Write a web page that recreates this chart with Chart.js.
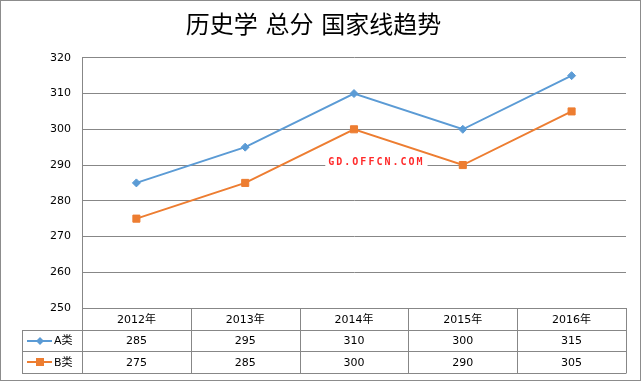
<!DOCTYPE html>
<html>
<head>
<meta charset="utf-8">
<script src="https://cdn.jsdelivr.net/npm/chart.js@4.4.1/dist/chart.umd.min.js"></script>
<style>
  html, body { margin: 0; padding: 0; background: #fff; }
  #wrap { width: 641px; height: 381px; box-sizing: border-box; border: 1px solid #8c8c8c; background: #fff; }
  #c { display: block; }
</style>
</head>
<body>
<div id="wrap"><canvas id="c" width="639" height="379"></canvas></div>
<script>
// ---- data ----
const titleText = '历史学 总分 国家线趋势';
const categories = ['2012年', '2013年', '2014年', '2015年', '2016年'];
const seriesNames = ['A类', 'B类'];
const seriesA = [285, 295, 310, 300, 315];
const seriesB = [275, 285, 300, 290, 305];
const yTicks = [250, 260, 270, 280, 290, 300, 310, 320];
const watermarkText = 'GD.OFFCN.COM';

const GRID = '#878787';
const FONT = "'DejaVu Sans', 'Noto Sans CJK SC', sans-serif";

// watermark
const watermark = {
  id: 'watermark',
  beforeDatasetsDraw(chart) {
    const ctx = chart.ctx;
    const xs = chart.scales.x, ys = chart.scales.y;
    const cx = (xs.getPixelForValue(2) + xs.getPixelForValue(3)) / 2 - 32;
    const by = ys.getPixelForValue(290);
    ctx.save();
    ctx.font = "bold 10px 'DejaVu Sans Mono', monospace";
    if ('letterSpacing' in ctx) ctx.letterSpacing = '2px';
    const w = ctx.measureText(watermarkText).width;
    ctx.fillStyle = '#ffffff';
    ctx.fillRect(cx - w / 2 - 3, by - 10, w + 6, 13);
    ctx.fillStyle = '#ff2b2b';
    ctx.textAlign = 'left';
    ctx.textBaseline = 'alphabetic';
    ctx.fillText(watermarkText, cx - w / 2, by);
    if ('letterSpacing' in ctx) ctx.letterSpacing = '0px';
    ctx.restore();
  }
};

// data table below the plot
const dataTable = {
  id: 'dataTable',
  afterDraw(chart) {
    const ctx = chart.ctx;
    const area = chart.chartArea;
    const xs = chart.scales.x;
    const n = categories.length;
    const cw = (area.right - area.left) / n;
    const rowH = 21.7;
    const top = area.bottom;
    const r1 = top + rowH, r2 = top + 2 * rowH, r3 = top + 3 * rowH;
    const legLeft = 21;
    const al = v => Math.round(v) + 0.5;
    ctx.save();
    // keep the gridlines inside the plot area
    ctx.fillStyle = '#ffffff';
    ctx.fillRect(Math.round(area.right) + 1, area.top - 3, chart.width, area.bottom - area.top + 2);

    ctx.strokeStyle = GRID;
    ctx.lineWidth = 1;
    ctx.beginPath();
    ctx.moveTo(area.left, al(top)); ctx.lineTo(area.right, al(top));
    [r1, r2, r3].forEach(y => { ctx.moveTo(legLeft, al(y)); ctx.lineTo(area.right, al(y)); });
    for (let i = 0; i <= n; i++) {
      const x = al(area.left + i * cw);
      ctx.moveTo(x, top); ctx.lineTo(x, al(r3));
    }
    ctx.moveTo(al(legLeft), al(r1)); ctx.lineTo(al(legLeft), al(r3));
    ctx.stroke();

    ctx.fillStyle = '#000';
    ctx.font = '11px ' + FONT;
    ctx.textAlign = 'center';
    ctx.textBaseline = 'middle';
    const rows = [seriesA, seriesB];
    for (let i = 0; i < n; i++) {
      const cx = xs.getPixelForValue(i);
      ctx.fillText(categories[i], cx, (top + r1) / 2 + 1);
      ctx.fillText(String(rows[0][i]), cx, (r1 + r2) / 2 + 1);
      ctx.fillText(String(rows[1][i]), cx, (r2 + r3) / 2 + 1);
    }
    const mids = [(r1 + r2) / 2, (r2 + r3) / 2];
    chart.data.datasets.forEach((ds, k) => {
      const y = Math.round(mids[k]);
      ctx.strokeStyle = ds.borderColor;
      ctx.lineWidth = 2;
      ctx.beginPath();
      ctx.moveTo(26, y); ctx.lineTo(51, y);
      ctx.stroke();
      ctx.fillStyle = ds.borderColor;
      const mx = 39;
      if (ds.pointStyle === 'rectRot') {
        const r = 4;
        ctx.beginPath();
        ctx.moveTo(mx, y - r); ctx.lineTo(mx + r, y); ctx.lineTo(mx, y + r); ctx.lineTo(mx - r, y);
        ctx.closePath(); ctx.fill();
      } else {
        ctx.fillRect(mx - 4, y - 4, 8, 8);
      }
      ctx.fillStyle = '#000';
      ctx.textAlign = 'left';
      ctx.fillText(ds.label, 53, mids[k] + 1);
    });
    ctx.restore();
  }
};

new Chart(document.getElementById('c'), {
  type: 'line',
  data: {
    labels: categories,
    datasets: [
      {
        label: seriesNames[0], data: seriesA,
        borderColor: '#5B9BD5', backgroundColor: '#5B9BD5',
        borderWidth: 2, pointStyle: 'rectRot', pointRadius: 4,
        pointBorderWidth: 1, pointBorderColor: '#5B9BD5', tension: 0
      },
      {
        label: seriesNames[1], data: seriesB,
        borderColor: '#ED7D31', backgroundColor: '#ED7D31',
        borderWidth: 2, pointStyle: 'rect', pointRadius: 5,
        pointBorderWidth: 1, pointBorderColor: '#ED7D31', tension: 0
      }
    ]
  },
  options: {
    responsive: false,
    animation: false,
    layout: { padding: { left: 0, right: 14, bottom: 72, top: 0 } },
    plugins: {
      legend: { display: false },
      tooltip: { enabled: false },
      title: {
        display: true, text: titleText, color: '#000',
        font: { family: "'DejaVu Sans', 'Noto Sans CJK SC', sans-serif", size: 24, weight: 'normal', lineHeight: 1.2 },
        padding: { top: 11, bottom: 17 }
      }
    },
    scales: {
      x: { display: false, offset: true },
      y: {
        min: yTicks[0], max: yTicks[yTicks.length - 1],
        afterBuildTicks(scale) { scale.ticks = yTicks.map(v => ({ value: v })); },
        afterFit(scale) { scale.width = 81; },
        grid: { color: GRID, lineWidth: 1, drawTicks: false },
        border: { color: GRID, width: 1 },
        ticks: { color: '#000', padding: 11, font: { family: FONT, size: 11 } }
      }
    }
  },
  plugins: [watermark, dataTable]
});
</script>
</body>
</html>
